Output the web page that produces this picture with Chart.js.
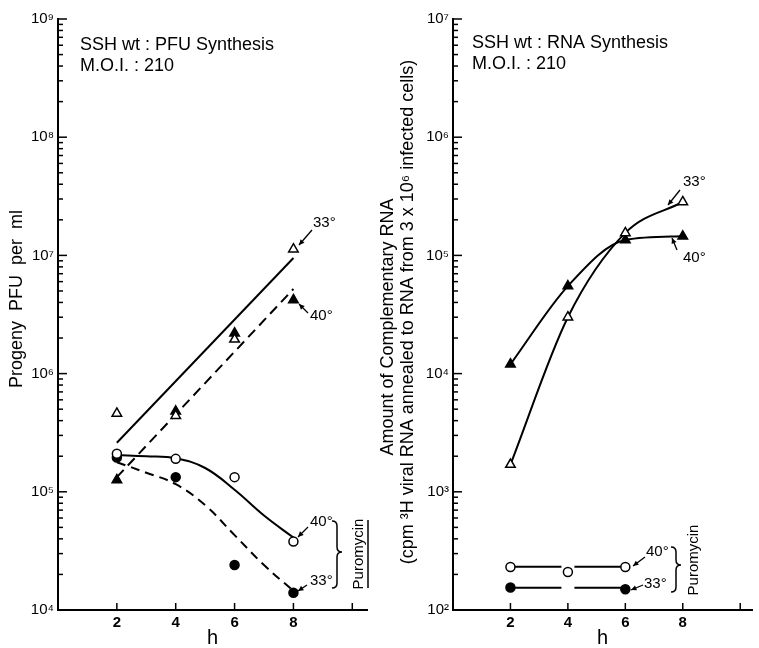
<!DOCTYPE html>
<html>
<head>
<meta charset="utf-8">
<script src="https://cdn.jsdelivr.net/npm/chart.js@4.4.0/dist/chart.umd.min.js"></script>
<style>
  body { margin: 0; background: #fff; }
  #wrap { position: relative; width: 759px; height: 648px; }
  canvas { position: absolute; top: 0; }
</style>
</head>
<body>
<div id="wrap">
  <canvas id="pfu" width="380" height="648" style="left:0"></canvas>
  <canvas id="rna" width="379" height="648" style="left:380px"></canvas>
</div>
<script>
// time axis
const hours = [2, 4, 6, 8];
const hourTicks = [2, 4, 6, 8, 10];
const hourLabels = ['2', '4', '6', '8', ''];

// left panel: progeny PFU per ml
const pfuDecades = [4, 5, 6, 7, 8, 9];
const pfu33 = [4.6e5, 4.4e5, 1.95e6, 1.13e7];
const pfu40 = [1.26e5, 4.8e5, 2.2e6, 4.2e6];
const pfuPuro40 = [2.1e5, 1.9e5, 1.33e5, 3.8e4];
const pfuPuro33 = [1.95e5, 1.33e5, 2.4e4, 1.4e4];
// hand drawn fit lines of the figure
const pfuFitHours = [2, 8];
const pfuFit33 = [2.6e5, 9.5e6];
const pfuFit40 = [1.33e5, 5.2e6];
const pfuCurveHours = [2, 3, 4, 5, 6, 7, 8];
const pfuCurvePuro40 = [2.05e5, 2.0e5, 1.92e5, 1.59e5, 1.04e5, 6.3e4, 4.1e4];
const pfuCurvePuro33 = [1.78e5, 1.45e5, 1.16e5, 7.7e4, 4.3e4, 2.4e4, 1.45e4];

// right panel: complementary RNA (cpm)
const rnaDecades = [2, 3, 4, 5, 6, 7];
const rna33 = [1.7e3, 3.0e4, 1.55e5, 2.83e5];
const rna40 = [1.2e4, 5.5e4, 1.35e5, 1.45e5];
const puro40Hours = [2, 4, 6];
const rnaPuro40 = [231, 210, 231];
const puro33Hours = [2, 6];
const rnaPuro33 = [155, 150];
const puroFitHours = [2, 6];
const rnaPuroFit40 = [232, 232];
const rnaPuroFit33 = [154, 154];

const FONT = '"Liberation Sans", "DejaVu Sans", Arial, sans-serif';
const sup = n => String(n).split('').map(d => '⁰¹²³⁴⁵⁶⁷⁸⁹'[d]).join('');
const isPow10 = v => { const e = Math.log10(v); return Math.abs(e - Math.round(e)) < 1e-6; };
const pts = (xs, ys) => xs.map((x, i) => ({ x, y: ys[i] }));

function logTicks(decades) {
  const vals = [];
  decades.forEach((e, i) => {
    if (i === decades.length - 1) { vals.push(Math.pow(10, e)); return; }
    for (let m = 1; m <= 9; m++) vals.push(m * Math.pow(10, e));
  });
  return vals;
}

function mark(data, style, filled) {
  return {
    data, showLine: false, pointStyle: style,
    pointRadius: style === 'triangle' ? 5.5 : 4.5,
    pointBackgroundColor: filled ? '#000' : '#fff',
    pointBorderColor: '#000', pointBorderWidth: 1.5
  };
}

function fit(data, dash, tension) {
  return {
    data, borderColor: '#000', borderWidth: 2, borderDash: dash,
    pointRadius: 0, tension: tension || 0
  };
}

function makeScales(decades, yWidth, xMax) {
  return {
    x: {
      type: 'linear', min: 0, max: xMax,
      afterBuildTicks: s => { s.ticks = [0].concat(hourTicks).map(v => ({ value: v })); },
      afterFit: s => { s.height = 38; },
      grid: { display: true, drawOnChartArea: false, drawTicks: false },
      border: { color: '#000', width: 2 },
      ticks: {
        autoSkip: false, maxRotation: 0, padding: 4, color: '#000',
        font: { family: FONT, size: 15, weight: 'bold' },
        callback: v => { const i = hourTicks.indexOf(v); return i < 0 ? '' : hourLabels[i]; }
      },
      title: { display: true, text: 'h', color: '#000', font: { family: FONT, size: 20, lineHeight: 1 }, padding: 0 }
    },
    y: {
      type: 'logarithmic',
      min: Math.pow(10, decades[0]), max: Math.pow(10, decades[decades.length - 1]),
      afterBuildTicks: s => { s.ticks = logTicks(decades).map(v => ({ value: v })); },
      afterFit: s => { s.width = yWidth; },
      grid: { display: true, drawOnChartArea: false, drawTicks: false },
      border: { color: '#000', width: 2 },
      ticks: {
        autoSkip: false, padding: 4, color: '#000',
        font: { family: FONT, size: 15 },
        callback: v => isPow10(v) ? '10' + sup(Math.round(Math.log10(v))) : ''
      }
    }
  };
}

function arrow(ctx, x1, y1, x2, y2) {
  ctx.beginPath(); ctx.moveTo(x1, y1); ctx.lineTo(x2, y2); ctx.stroke();
  const ang = Math.atan2(y2 - y1, x2 - x1), h = 6;
  ctx.beginPath();
  ctx.moveTo(x2, y2);
  ctx.lineTo(x2 - h * Math.cos(ang - 0.45), y2 - h * Math.sin(ang - 0.45));
  ctx.lineTo(x2 - h * Math.cos(ang + 0.45), y2 - h * Math.sin(ang + 0.45));
  ctx.closePath(); ctx.fill();
}

function brace(ctx, b) {
  const w = 5;
  ctx.beginPath();
  ctx.moveTo(b.x - w, b.top);
  ctx.quadraticCurveTo(b.x, b.top, b.x, b.top + w);
  ctx.lineTo(b.x, b.mid - w);
  ctx.quadraticCurveTo(b.x, b.mid, b.x + w, b.mid);
  ctx.quadraticCurveTo(b.x, b.mid, b.x, b.mid + w);
  ctx.lineTo(b.x, b.bottom - w);
  ctx.quadraticCurveTo(b.x, b.bottom, b.x - w, b.bottom);
  ctx.stroke();
}

// inward tick marks, headings, axis titles and the 33°/40° notes
const decor = {
  id: 'decor',
  afterDraw(chart, args, o) {
    const { ctx, chartArea: a, scales: { x, y } } = chart;
    ctx.save();
    ctx.strokeStyle = '#000'; ctx.fillStyle = '#000'; ctx.lineWidth = 1.5;
    y.ticks.forEach(t => {
      const py = y.getPixelForValue(t.value);
      const len = isPow10(t.value) ? 9 : 5;
      ctx.beginPath(); ctx.moveTo(a.left, py); ctx.lineTo(a.left + len, py); ctx.stroke();
    });
    x.ticks.forEach(t => {
      if (t.value <= 0) return;
      const px = x.getPixelForValue(t.value);
      ctx.beginPath(); ctx.moveTo(px, a.bottom); ctx.lineTo(px, a.bottom - 7); ctx.stroke();
    });

    ctx.font = `18px ${FONT}`;
    ctx.textAlign = 'left'; ctx.textBaseline = 'alphabetic';
    o.heading.forEach((s, i) => ctx.fillText(s, o.headingAt[0], o.headingAt[1] + i * 21));

    ctx.textAlign = 'center'; ctx.textBaseline = 'middle';
    o.yTitle.forEach(t => {
      ctx.save(); ctx.translate(t.x, t.y); ctx.rotate(-Math.PI / 2);
      ctx.fillText(t.text, 0, 0); ctx.restore();
    });

    ctx.font = `15px ${FONT}`;
    ctx.textAlign = 'left';
    ctx.lineWidth = 1.3;
    o.notes.forEach(n => {
      ctx.fillText(n.text, n.x, n.y);
      arrow(ctx, n.from[0], n.from[1], n.to[0], n.to[1]);
    });

    ctx.lineWidth = 1.5;
    brace(ctx, o.brace);
    const p = o.puro;
    ctx.save(); ctx.translate(p.x, p.y); ctx.rotate(-Math.PI / 2);
    ctx.textAlign = 'center'; ctx.font = `15px ${FONT}`;
    ctx.fillText('Puromycin', 0, 0);
    if (p.underline) {
      ctx.beginPath(); ctx.moveTo(-34, 9); ctx.lineTo(34, 9); ctx.stroke();
    }
    ctx.restore();
    ctx.restore();
  }
};

const common = {
  responsive: false, animation: false, events: [],
  plugins: { legend: { display: false }, tooltip: { enabled: false } }
};

new Chart(document.getElementById('pfu'), {
  type: 'line',
  data: {
    datasets: [
      mark(pts(hours, pfu33), 'triangle', false),
      mark(pts(hours, pfu40), 'triangle', true),
      mark(pts(hours, pfuPuro40), 'circle', false),
      mark(pts(hours, pfuPuro33), 'circle', true),
      fit(pts(pfuFitHours, pfuFit33), []),
      fit(pts(pfuFitHours, pfuFit40), [10, 6]),
      fit(pts(pfuCurveHours, pfuCurvePuro40), [], 0.4),
      fit(pts(pfuCurveHours, pfuCurvePuro33), [9, 6], 0.4)
    ]
  },
  options: {
    ...common,
    layout: { padding: { top: 19, right: 13, left: 0, bottom: 0 } },
    scales: makeScales(pfuDecades, 58, 10.5),
    plugins: {
      ...common.plugins,
      decor: {
        heading: ['SSH wt : PFU Synthesis', 'M.O.I. : 210'],
        headingAt: [80, 50],
        yTitle: [{ text: 'Progeny  PFU  per  ml', x: 17, y: 299 }],
        notes: [
          { text: '33°', x: 313, y: 223, from: [312, 230], to: [299, 245] },
          { text: '40°', x: 310, y: 316, from: [308, 313], to: [299, 304] },
          { text: '40°', x: 310, y: 522, from: [308, 527], to: [298, 537] },
          { text: '33°', x: 310, y: 581, from: [307, 585], to: [298, 591] }
        ],
        brace: { x: 337, top: 521, mid: 552, bottom: 588 },
        puro: { x: 359, y: 554, underline: true }
      }
    }
  },
  plugins: [decor]
});

new Chart(document.getElementById('rna'), {
  type: 'line',
  data: {
    datasets: [
      { ...mark(pts(hours, rna33), 'triangle', false), showLine: true, borderColor: '#000', borderWidth: 2, cubicInterpolationMode: 'monotone' },
      { ...mark(pts(hours, rna40), 'triangle', true), showLine: true, borderColor: '#000', borderWidth: 2, cubicInterpolationMode: 'monotone' },
      mark(pts(puro40Hours, rnaPuro40), 'circle', false),
      mark(pts(puro33Hours, rnaPuro33), 'circle', true),
      fit(pts(puroFitHours, rnaPuroFit40), [51, 13]),
      fit(pts(puroFitHours, rnaPuroFit33), [51, 13])
    ]
  },
  options: {
    ...common,
    layout: { padding: { top: 19, right: 0, left: 0, bottom: 0 } },
    scales: makeScales(rnaDecades, 73, 10.41),
    plugins: {
      ...common.plugins,
      decor: {
        heading: ['SSH wt : RNA Synthesis', 'M.O.I. : 210'],
        headingAt: [92, 48],
        yTitle: [
          { text: 'Amount of Complementary RNA', x: 8, y: 327 },
          { text: '(cpm ³H viral RNA annealed to RNA from 3 x 10⁶ infected cells)', x: 28, y: 312 }
        ],
        notes: [
          { text: '33°', x: 303, y: 182, from: [300, 190], to: [288, 205] },
          { text: '40°', x: 303, y: 258, from: [297, 250], to: [292, 238] },
          { text: '40°', x: 266, y: 552, from: [265, 557], to: [253, 566] },
          { text: '33°', x: 264, y: 584, from: [263, 585], to: [251, 590] }
        ],
        brace: { x: 296, top: 547, mid: 565, bottom: 592 },
        puro: { x: 314, y: 560, underline: false }
      }
    }
  },
  plugins: [decor]
});
</script>
</body>
</html>
